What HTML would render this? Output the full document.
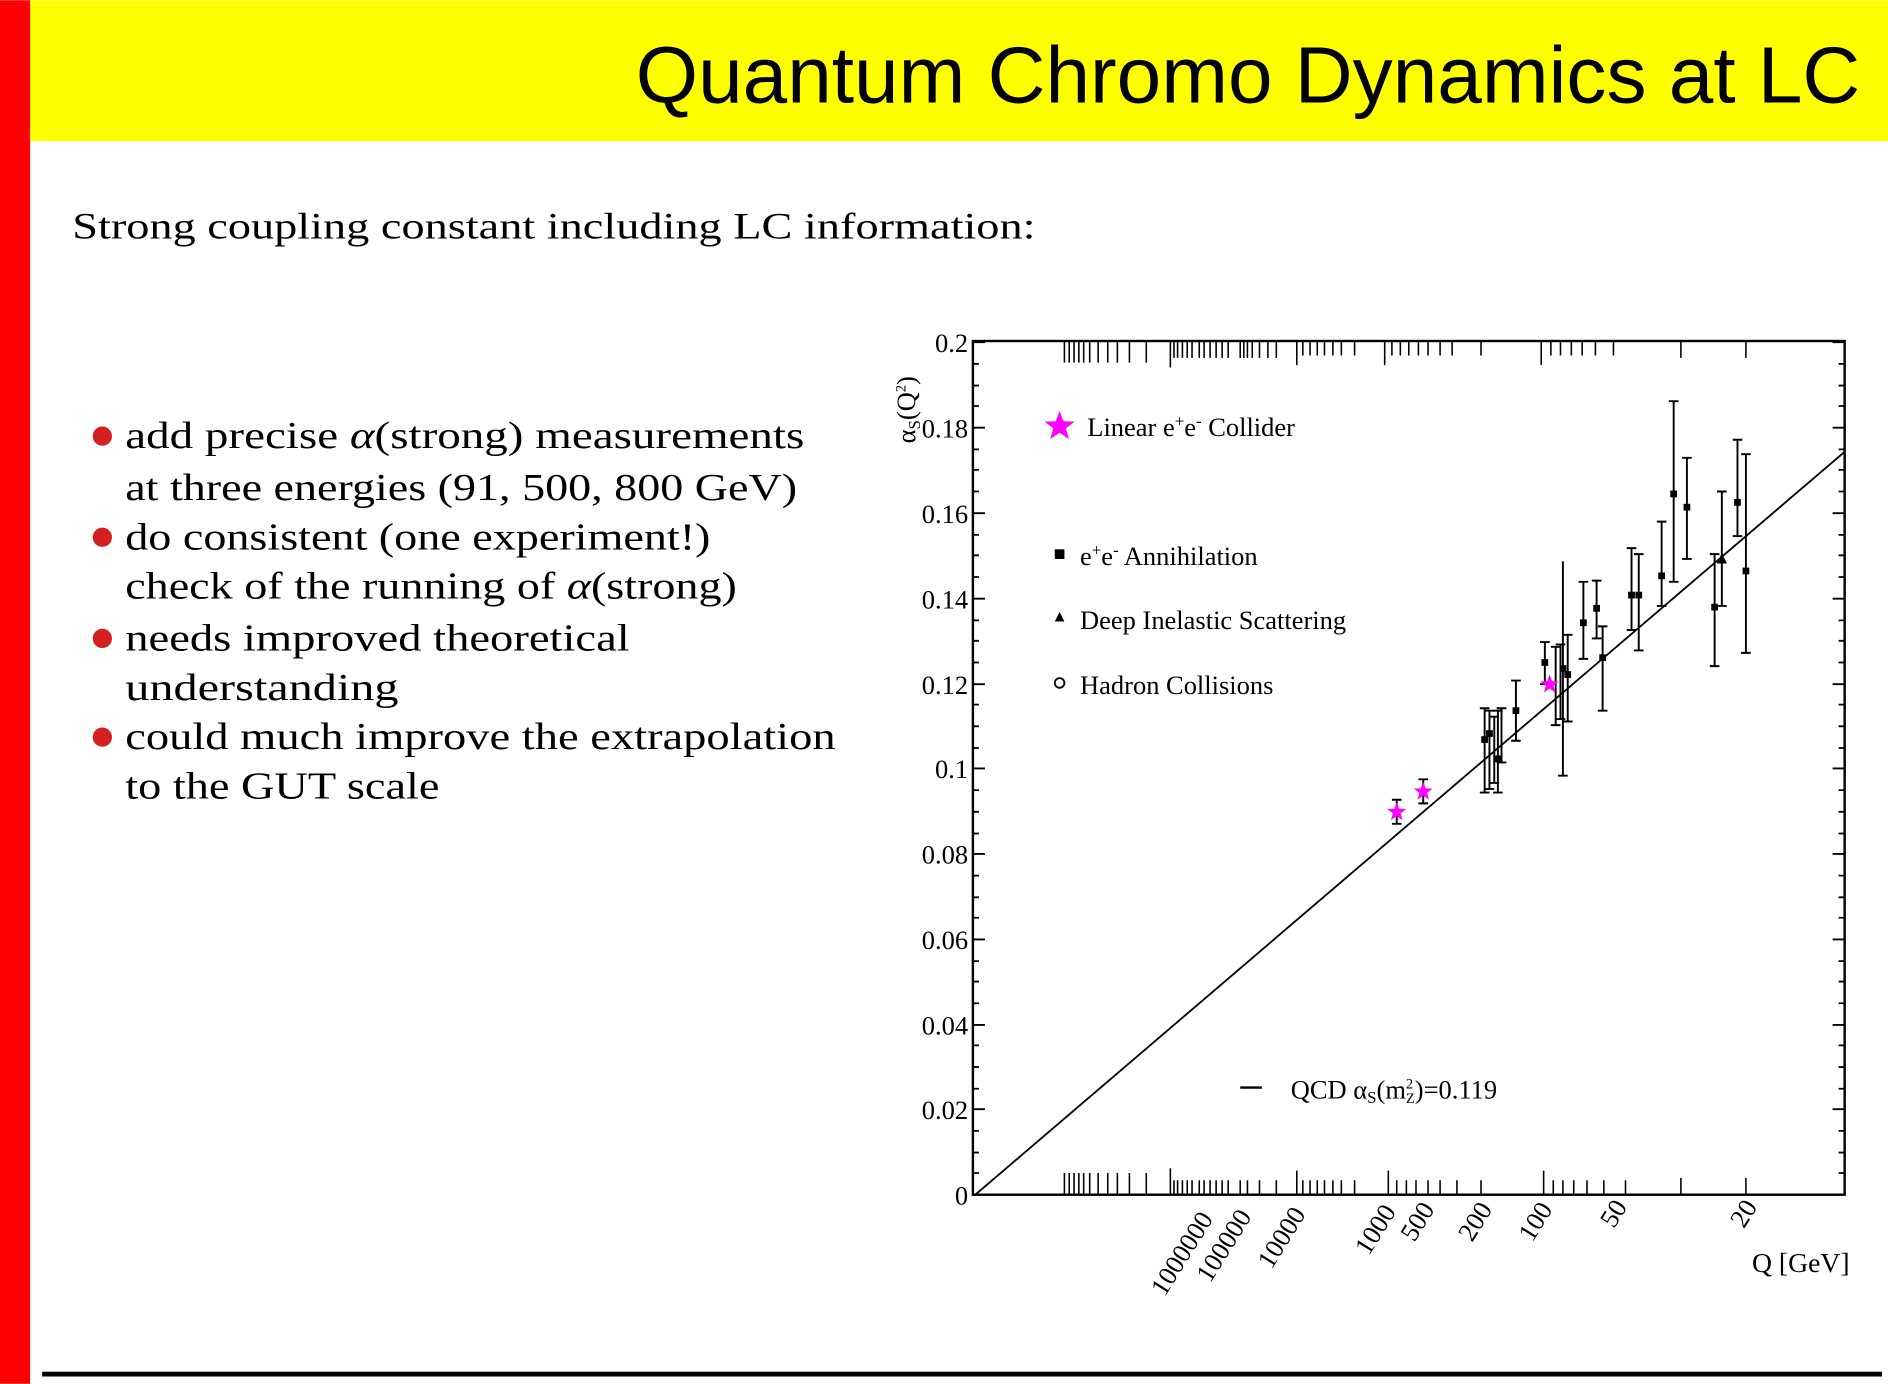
<!DOCTYPE html>
<html><head><style>html,body{margin:0;padding:0;background:#fff}svg{display:block}</style></head>
<body>
<svg width="1888" height="1384" viewBox="0 0 1568 1149" xmlns="http://www.w3.org/2000/svg">
<rect x="0" y="0" width="1568" height="1149" fill="#fff"/>
<rect x="25" y="0" width="1543" height="117" fill="#ffff00"/>
<rect x="0" y="0" width="25" height="1149" fill="#ff0000"/>
<text x="528" y="85" font-family="Liberation Sans, sans-serif" font-size="66" textLength="1017" lengthAdjust="spacingAndGlyphs">Quantum Chromo Dynamics at LC</text>
<text x="60" y="198" font-family="Liberation Serif, serif" font-size="31" textLength="800" lengthAdjust="spacingAndGlyphs">Strong coupling constant including LC information:</text>
<g font-family="Liberation Serif, serif" font-size="32">
<text x="104" y="372" textLength="564" lengthAdjust="spacingAndGlyphs">add precise <tspan font-style="italic">α</tspan>(strong) measurements</text>
<text x="104" y="415" textLength="558" lengthAdjust="spacingAndGlyphs">at three energies (91, 500, 800 GeV)</text>
<text x="104" y="456" textLength="486" lengthAdjust="spacingAndGlyphs">do consistent (one experiment!)</text>
<text x="104" y="497" textLength="508" lengthAdjust="spacingAndGlyphs">check of the running of <tspan font-style="italic">α</tspan>(strong)</text>
<text x="104" y="540" textLength="419" lengthAdjust="spacingAndGlyphs">needs improved theoretical</text>
<text x="104" y="581" textLength="227" lengthAdjust="spacingAndGlyphs">understanding</text>
<text x="104" y="622" textLength="590" lengthAdjust="spacingAndGlyphs">could much improve the extrapolation</text>
<text x="104" y="663" textLength="261" lengthAdjust="spacingAndGlyphs">to the GUT scale</text>
</g>
<g fill="#d42020">
<circle cx="85" cy="362" r="8"/><circle cx="85" cy="446" r="8"/><circle cx="85" cy="530" r="8"/><circle cx="85" cy="612" r="8"/>
</g>
<rect x="35" y="1139" width="1528" height="4" fill="#000"/>
<!-- plot -->
<rect x="808" y="283" width="724" height="709" fill="none" stroke="#000" stroke-width="2"/>
<g stroke="#000" stroke-width="1.5">
<!-- left ticks -->
<path d="M808 284h10M808 355h10M808 426h10M808 497h10M808 568h10M808 638h10M808 709h10M808 780h10M808 851h10M808 921h10"/>
<path d="M808 302h5M808 320h5M808 337h5M808 373h5M808 390h5M808 408h5M808 444h5M808 461h5M808 479h5M808 515h5M808 532h5M808 550h5M808 585h5M808 603h5M808 621h5M808 656h5M808 674h5M808 692h5M808 727h5M808 745h5M808 762h5M808 798h5M808 815h5M808 833h5M808 868h5M808 886h5M808 904h5M808 939h5M808 957h5M808 974h5"/>
<path d="M1532 284h-10M1532 355h-10M1532 426h-10M1532 497h-10M1532 568h-10M1532 638h-10M1532 709h-10M1532 780h-10M1532 851h-10M1532 921h-10"/>
<path d="M1532 302h-5M1532 320h-5M1532 337h-5M1532 373h-5M1532 390h-5M1532 408h-5M1532 444h-5M1532 461h-5M1532 479h-5M1532 515h-5M1532 532h-5M1532 550h-5M1532 585h-5M1532 603h-5M1532 621h-5M1532 656h-5M1532 674h-5M1532 692h-5M1532 727h-5M1532 745h-5M1532 762h-5M1532 798h-5M1532 815h-5M1532 833h-5M1532 868h-5M1532 886h-5M1532 904h-5M1532 939h-5M1532 957h-5M1532 974h-5"/>
</g>
<g stroke="#000" stroke-width="1.3" id="xt">
<path d="M884 283v18M888 283v18M892 283v18M896 283v18M900 283v18M905 283v18M912 283v18M920 283v18M928 283v18M938 283v18M952 283v18M972 283v22M975 283v14M978 283v14M982 283v14M986 283v14M990 283v14M996 283v14M1000 283v14M1005 283v14M1010 283v14M1015 283v14M1020 283v14M1030 283v14M1033 283v14M1036 283v14M1040 283v14M1046 283v14M1053 283v14M1060 283v14M1077 283v20M1082 283v12M1088 283v12M1094 283v12M1100 283v12M1107 283v12M1114 283v12M1125 283v12M1150 283v20M1156 283v12M1163 283v12M1170 283v12M1178 283v12M1186 283v12M1196 283v12M1206 283v12M1230 283v12M1280 283v20M1288 283v12M1296 283v12M1305 283v12M1314 283v12M1325 283v12M1340 283v12M1396 283v14M1450 283v14"/>
<path d="M884 992v-18M888 992v-18M892 992v-18M896 992v-18M900 992v-18M905 992v-18M912 992v-18M920 992v-18M928 992v-18M938 992v-18M952 992v-18M972 992v-22M975 992v-12M978 992v-12M982 992v-12M986 992v-12M990 992v-12M996 992v-12M1000 992v-12M1005 992v-12M1010 992v-12M1015 992v-12M1020 992v-12M1030 992v-12M1036 992v-12M1046 992v-12M1060 992v-12M1077 992v-20M1082 992v-12M1088 992v-12M1094 992v-12M1100 992v-12M1107 992v-12M1114 992v-12M1125 992v-12M1153 992v-20M1160 992v-12M1168 992v-12M1176 992v-12M1186 992v-12M1196 992v-12M1210 992v-12M1230 992v-12M1282 992v-20M1290 992v-12M1298 992v-12M1307 992v-12M1318 992v-12M1332 992v-12M1350 992v-12M1396 992v-14M1450 992v-14"/>
</g>
<line x1="810" y1="992" x2="1532" y2="375" stroke="#000" stroke-width="1.5"/>
<g font-family="Liberation Serif, serif" font-size="22" text-anchor="end">
<text x="804" y="292">0.2</text><text x="804" y="363">0.18</text><text x="804" y="434">0.16</text><text x="804" y="505">0.14</text><text x="804" y="576">0.12</text><text x="804" y="646">0.1</text><text x="804" y="717">0.08</text><text x="804" y="788">0.06</text><text x="804" y="859">0.04</text><text x="804" y="929">0.02</text><text x="804" y="1000">0</text>
</g>
<text transform="translate(760,368) rotate(-90)" font-family="Liberation Serif, serif" font-size="22">α<tspan font-size="14" dy="4">S</tspan><tspan dy="-4">(Q</tspan><tspan font-size="12" dy="-8">2</tspan><tspan dy="8">)</tspan></text>
<g font-family="Liberation Serif, serif" font-size="22" text-anchor="end">
<text transform="translate(1008,1012) rotate(-58)">1000000</text>
<text transform="translate(1040,1010) rotate(-58)">100000</text>
<text transform="translate(1085,1008) rotate(-58)">10000</text>
<text transform="translate(1160,1006) rotate(-58)">1000</text>
<text transform="translate(1192,1004) rotate(-58)">500</text>
<text transform="translate(1240,1004) rotate(-58)">200</text>
<text transform="translate(1290,1004) rotate(-58)">100</text>
<text transform="translate(1352,1002) rotate(-58)">50</text>
<text transform="translate(1460,1002) rotate(-58)">20</text>
</g>
<text x="1455" y="1056" font-family="Liberation Serif, serif" font-size="23">Q [GeV]</text>
<!-- legend -->
<g font-family="Liberation Serif, serif" font-size="22">
<text x="903" y="362">Linear e<tspan font-size="14" dy="-8">+</tspan><tspan dy="8">e</tspan><tspan font-size="14" dy="-8">-</tspan><tspan dy="8"> Collider</tspan></text>
<text x="897" y="469">e<tspan font-size="14" dy="-8">+</tspan><tspan dy="8">e</tspan><tspan font-size="14" dy="-8">-</tspan><tspan dy="8"> Annihilation</tspan></text>
<text x="897" y="522">Deep Inelastic Scattering</text>
<text x="897" y="576">Hadron Collisions</text>
<text x="1072" y="912">QCD α<tspan font-size="14" dy="4">S</tspan><tspan dy="-4">(m</tspan><tspan font-size="12" dy="-8">2</tspan><tspan font-size="12" dx="-6" dy="12">Z</tspan><tspan dy="-4">)=0.119</tspan></text>
</g>
<rect x="876" y="456" width="8" height="8" fill="#000"/>
<path d="M880 508l4 8h-8z" fill="#000"/>
<circle cx="880" cy="567" r="4" fill="none" stroke="#000" stroke-width="1.5"/>
<line x1="1030" y1="903" x2="1048" y2="903" stroke="#000" stroke-width="2"/>
<!-- data error bars -->
<g stroke="#000" stroke-width="1.6" fill="#000">
<path d="M1233 588v70M1229 588h8M1229 658h8"/><rect x="1231" y="612" width="4" height="4"/>
<path d="M1237 590v65M1233 590h8M1233 655h8"/><rect x="1235" y="607" width="4" height="4"/>
<path d="M1241 595v55M1237 595h8M1237 650h8"/>
<path d="M1244 590v68M1240 590h8M1240 658h8"/><rect x="1242" y="628" width="4" height="4"/>
<path d="M1247 588v45M1243 588h8M1243 633h8"/>
<path d="M1259 565v50M1255 565h8M1255 615h8"/><rect x="1257" y="588" width="4" height="4"/>
<path d="M1283 533v35M1279 533h8M1279 568h8"/><rect x="1281" y="548" width="4" height="4"/>
<path d="M1292 537v65M1288 537h8M1288 602h8"/>
<path d="M1296 535v62M1292 535h8M1292 597h8"/>
<path d="M1298 466v178M1294 644h8"/><rect x="1296" y="553" width="4" height="4"/>
<path d="M1302 527v72M1298 527h8M1298 599h8"/><rect x="1300" y="558" width="4" height="4"/>
<path d="M1315 483v64M1311 483h8M1311 547h8"/><rect x="1313" y="515" width="4" height="4"/>
<path d="M1326 482v48M1322 482h8M1322 530h8"/><rect x="1324" y="503" width="4" height="4"/>
<path d="M1331 520v70M1327 520h8M1327 590h8"/><rect x="1329" y="544" width="4" height="4"/>
<path d="M1355 455v68M1351 455h8M1351 523h8"/><rect x="1353" y="492" width="4" height="4"/>
<path d="M1361 460v80M1357 460h8M1357 540h8"/><rect x="1359" y="492" width="4" height="4"/>
<path d="M1380 433v70M1376 433h8M1376 503h8"/><rect x="1378" y="476" width="4" height="4"/>
<path d="M1390 333v150M1386 333h8M1386 483h8"/><rect x="1388" y="408" width="4" height="4"/>
<path d="M1401 380v84M1397 380h8M1397 464h8"/><rect x="1399" y="419" width="4" height="4"/>
<path d="M1424 460v93M1420 460h8M1420 553h8"/><rect x="1422" y="502" width="4" height="4"/>
<path d="M1430 408v95M1426 408h8M1426 503h8"/><path d="M1430 461l3 6h-6z"/>
<path d="M1443 365v80M1439 365h8M1439 445h8"/><rect x="1441" y="415" width="4" height="4"/>
<path d="M1450 377v165M1446 377h8M1446 542h8"/><rect x="1448" y="472" width="4" height="4"/>
<path d="M1160 664v20M1156 664h8M1156 684h8"/>
<path d="M1182 647v20M1178 647h8M1178 667h8"/>
</g>
<g fill="#ff00ff">
<path d="M880 341l3.2 8.6 9.2.3-7.2 5.7 2.6 8.8-7.8-5.2-7.8 5.2 2.6-8.8-7.2-5.7 9.2-.3z"/>
<path d="M1160 666l2 5.5 5.8.2-4.6 3.6 1.6 5.6-4.8-3.3-4.8 3.3 1.6-5.6-4.6-3.6 5.8-.2z"/>
<path d="M1182 649l2 5.5 5.8.2-4.6 3.6 1.6 5.6-4.8-3.3-4.8 3.3 1.6-5.6-4.6-3.6 5.8-.2z"/>
<path d="M1287 560l2 5.5 5.8.2-4.6 3.6 1.6 5.6-4.8-3.3-4.8 3.3 1.6-5.6-4.6-3.6 5.8-.2z"/>
</g>
</svg>
</body></html>
